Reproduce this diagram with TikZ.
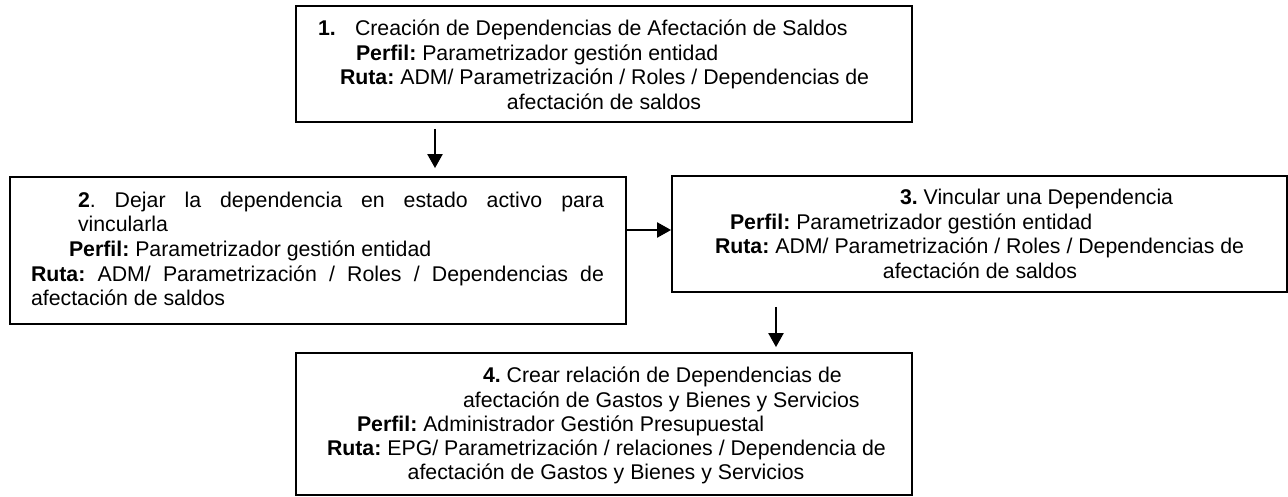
\documentclass[tikz,border=0pt]{standalone}
\usepackage{fontspec}
\setmainfont{Liberation Sans}
\usetikzlibrary{arrows.meta}
\frenchspacing
\tikzset{
  box/.style={draw=black, line width=1.8pt, rectangle, inner sep=0pt, fill=none},
  txt/.style={inner sep=0pt, outer sep=0pt, anchor=base west, font=\fontsize{21.3pt}{24.4pt}\selectfont\frenchspacing},
  ctxt/.style={txt, anchor=base},
  arr/.style={line width=2.2pt, -{Triangle[length=14pt,width=15pt]}}
}
\begin{document}
\begin{tikzpicture}[x=1pt,y=-1pt]
\useasboundingbox (0,0) rectangle (1288,497);
% boxes
\node[box, minimum width=616pt, minimum height=116pt] (b1) at (604,64) {};
\node[box, minimum width=616pt, minimum height=147pt] (b2) at (318,250.5) {};
\node[box, minimum width=615pt, minimum height=116pt] (b3) at (979.5,234) {};
\node[box, minimum width=616pt, minimum height=142pt] (b4) at (604,424) {};
% box 1 text
\node[txt] (t1n) at (318,36) {\textbf{1.}};
\node[txt] (t1a) at (355,36) {Creación de Dependencias de Afectación de Saldos};
\node[txt] (t1b) at (356,61) {\textbf{Perfil:} Parametrizador gestión entidad};
\node[txt] (t1c) at (340,85) {\textbf{Ruta:} ADM/ Parametrización / Roles / Dependencias de};
\node[ctxt] (t1d) at (604,110) {afectación de saldos};
% box 2 text
\node[txt] (t2a) at (78,208) {\makebox[526pt][s]{\textbf{2}. Dejar la dependencia en estado activo para}};
\node[txt] (t2b) at (78,232) {vincularla};
\node[txt] (t2c) at (69,257) {\textbf{Perfil:} Parametrizador gestión entidad};
\node[txt] (t2d) at (31,281) {\makebox[573pt][s]{\textbf{Ruta:} ADM/ Parametrización / Roles / Dependencias de}};
\node[txt] (t2e) at (31,305) {afectación de saldos};
% box 3 text
\node[txt] (t3a) at (900,205) {\textbf{3.} Vincular una Dependencia};
\node[txt] (t3b) at (730,230) {\textbf{Perfil:} Parametrizador gestión entidad};
\node[txt] (t3c) at (715,254) {\textbf{Ruta:} ADM/ Parametrización / Roles / Dependencias de};
\node[ctxt] (t3d) at (980,278) {afectación de saldos};
% box 4 text
\node[txt] (t4a) at (483,382) {\textbf{4.} Crear relación de Dependencias de};
\node[txt] (t4b) at (463,407) {afectación de Gastos y Bienes y Servicios};
\node[txt] (t4c) at (357,431) {\textbf{Perfil:} Administrador Gestión Presupuestal};
\node[txt] (t4d) at (327,455) {\textbf{Ruta:} EPG/ Parametrización / relaciones / Dependencia de};
\node[ctxt] (t4e) at (606,479) {afectación de Gastos y Bienes y Servicios};
% connectors
\coordinate (x1) at (435,0);
\coordinate (y2) at (0,230);
\coordinate (x3) at (776,0);
\draw[arr, shorten >=8pt] (b1.south -| x1) ++(0,6) -- (b2.north -| x1);
\draw[arr] (b2.east |- y2) -- (b3.west |- y2);
\draw[arr, shorten >=5pt] (b3.south -| x3) ++(0,14) -- (b4.north -| x3);
\end{tikzpicture}
\end{document}
